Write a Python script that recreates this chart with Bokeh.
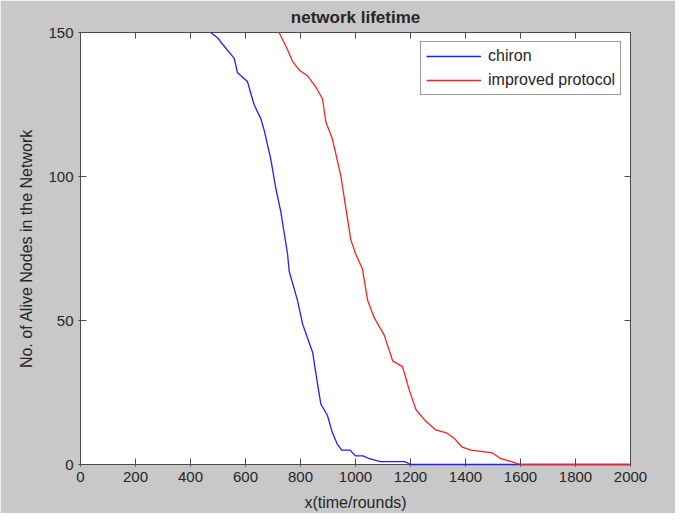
import math
from bokeh.plotting import figure
from bokeh.models import FixedTicker, Legend, LegendItem, Range1d, ColumnDataSource
from bokeh.embed import file_html
from bokeh.resources import INLINE

# ---- data ----
chiron_x = [474, 500, 516, 559, 571, 607, 631, 656, 668, 692, 710, 728, 753, 759, 789, 807, 825,
            844, 862, 874, 898, 916, 934, 950, 980, 1000, 1028, 1050, 1090, 1110, 1179, 1200, 2000]
chiron_y = [150, 148, 146, 141, 136, 133, 125, 120, 116, 106, 96, 88, 73, 67, 57, 49, 44,
            39, 28, 21, 17, 11, 7, 5, 5, 3, 3, 2, 1, 1, 1, 0, 0]

improved_x = [722, 753, 771, 795, 825, 856, 880, 892, 916, 928, 947, 965, 983, 1001, 1025,
              1044, 1068, 1104, 1135, 1171, 1195, 1220, 1256, 1292, 1330, 1360, 1388, 1420,
              1498, 1529, 1567, 1600, 2000]
improved_y = [150, 144, 140, 137, 135, 131, 127, 119, 113, 108, 100, 89, 78, 73, 68,
              57, 51, 45, 36, 34, 26, 19, 15, 12, 11, 9, 6, 5, 4, 2, 1, 0, 0]

x_ticks = [0, 200, 400, 600, 800, 1000, 1200, 1400, 1600, 1800, 2000]
y_ticks = [0, 50, 100, 150]

series_labels = ["chiron", "improved protocol"]
title_text = "network lifetime"
x_label = "x(time/rounds)"
y_label = "No. of Alive Nodes in the Network"

# ---- styling ----
FONT = "Liberation Sans"
TXT = "#262626"
AX = "#4a4a4a"
BG = "#c8c8c8"

p = figure(width=675, height=513, x_range=Range1d(0, 2000), y_range=Range1d(0, 150),
           output_backend="svg", toolbar_location=None,
           min_border_left=80, min_border_right=45, min_border_top=31, min_border_bottom=48,
           title=title_text)
p.border_fill_color = BG
p.background_fill_color = "white"
p.outline_line_color = AX
p.outline_line_width = 1
p.xgrid.visible = False
p.ygrid.visible = False

p.title.align = "center"
p.title.text_font = FONT
p.title.text_font_size = "17px"
p.title.text_font_style = "bold"
p.title.text_color = TXT
p.title.standoff = 11

for ax, ticks in ((p.xaxis[0], x_ticks), (p.yaxis[0], y_ticks)):
    ax.ticker = FixedTicker(ticks=ticks)
    ax.major_tick_in = 6
    ax.major_tick_out = 2
    ax.minor_tick_in = 0
    ax.minor_tick_out = 0
    ax.major_tick_line_color = AX
    ax.axis_line_color = AX
    ax.major_label_text_font = FONT
    ax.major_label_text_font_size = "15px"
    ax.major_label_text_color = TXT
    ax.major_label_standoff = 5
    ax.axis_label_text_font = FONT
    ax.axis_label_text_font_size = "16px"
    ax.axis_label_text_font_style = "normal"
    ax.axis_label_text_color = TXT

p.xaxis[0].axis_label = x_label
p.xaxis[0].axis_label_standoff = 9
p.yaxis[0].axis_label = y_label
p.yaxis[0].axis_label_standoff = 10

# inward tick marks on the top and right edges of the box (clipped to the frame)
p.scatter(x=x_ticks, y=[p.y_range.end] * len(x_ticks), marker="dash", angle=math.pi / 2,
          size=12, line_color=AX, line_width=1)
p.scatter(x=[p.x_range.end] * len(y_ticks), y=y_ticks, marker="dash",
          size=12, line_color=AX, line_width=1)

src_c = ColumnDataSource(dict(x=chiron_x, y=chiron_y))
src_i = ColumnDataSource(dict(x=improved_x, y=improved_y))
r1 = p.line("x", "y", source=src_c, line_color="#1f1fff", line_width=1.3, level="overlay")
r2 = p.line("x", "y", source=src_i, line_color="#ff1f1f", line_width=1.3, level="overlay")

legend = Legend(items=[LegendItem(label=series_labels[0], renderers=[r1]),
                       LegendItem(label=series_labels[1], renderers=[r2])],
                location=(340, 369))
legend.padding = 5
legend.spacing = 6
legend.glyph_height = 18
legend.label_height = 18
legend.glyph_width = 55
legend.label_standoff = 7
legend.label_text_font = FONT
legend.label_text_font_size = "16px"
legend.label_text_color = TXT
legend.border_line_color = "#333333"
legend.border_line_width = 1
legend.background_fill_color = "white"
legend.background_fill_alpha = 1
legend.margin = 0
p.add_layout(legend)

open("out.html", "w").write(file_html(p, INLINE))
